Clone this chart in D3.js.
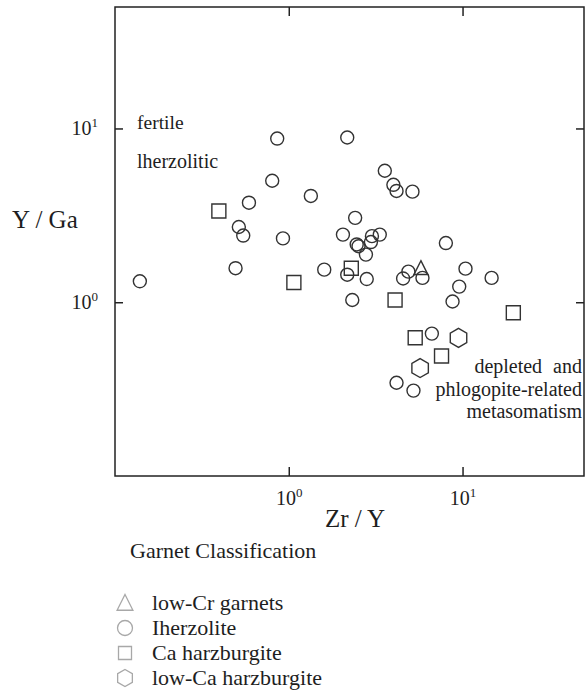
<!DOCTYPE html>
<html>
<head>
<meta charset="utf-8">
<script src="https://cdn.jsdelivr.net/npm/d3@7"></script>
<style>
  body { margin: 0; background: #fff; }
  text { font-family: "Liberation Serif", "Times New Roman", serif; fill: #1e1e1e; }
</style>
</head>
<body>
<div id="chart-area"></div>
<script>
// Garnet Zr/Y vs Y/Ga
const lherzolite = [
    [0.139, 1.32], [0.858, 8.75], [2.17, 8.87], [0.803, 5.00], [1.34, 4.09],
    [0.590, 3.74], [0.516, 2.71], [0.547, 2.42], [0.926, 2.33], [0.494, 1.57],
    [3.57, 5.71], [4.00, 4.74], [4.17, 4.37], [5.15, 4.33], [2.41, 3.06],
    [2.05, 2.45], [3.01, 2.40], [3.34, 2.45], [2.97, 2.22], [2.46, 2.15],
    [2.52, 2.10], [2.78, 1.88], [8.02, 2.19], [1.60, 1.54], [2.17, 1.44],
    [2.81, 1.36], [4.88, 1.50], [4.55, 1.37], [5.88, 1.38], [10.4, 1.56],
    [14.7, 1.38], [9.57, 1.23], [2.32, 1.03], [8.76, 1.01], [6.66, 0.660],
    [4.17, 0.344], [5.22, 0.310]
]
const caHarzburgite = [
    [0.396, 3.35], [1.07, 1.30], [2.29, 1.57], [4.09, 1.03], [19.6, 0.870],
    [5.34, 0.624], [7.57, 0.490]
]
const lowCaHarzburgite = [[9.48, 0.624], [5.70, 0.418]]
const lowCrGarnets = [[5.76, 1.57]]

const xTicks = [1, 10]
const yTicks = [1, 10]
const legendLabels = ['low-Cr garnets', 'Iherzolite', 'Ca harzburgite', 'low-Ca harzburgite']

const canvas = { width: 586, height: 690 }
const plot = { left: 115, right: 584, top: 7, bottom: 476 }

const svg = d3.select('#chart-area')
    .append('svg')
    .attr('width', canvas.width)
    .attr('height', canvas.height)

const x = d3.scaleLog().domain([0.1, 50]).range([plot.left, plot.right])
const y = d3.scaleLog().domain([0.1, 50]).range([plot.bottom, plot.top])

// marker shapes, drawn around 0,0
const shape = {
    circle: r => `M${r},0A${r},${r} 0 1,1 ${-r},0A${r},${r} 0 1,1 ${r},0Z`,
    square: r => `M${-r},${-r}H${r}V${r}H${-r}Z`,
    triangle: r => `M0,${-r}L${r * 0.93},${r * 0.85}L${-r * 0.93},${r * 0.85}Z`,
    hexagon: r => d3.range(6).map(i => {
        const a = Math.PI / 3 * i - Math.PI / 2
        return (i ? 'L' : 'M') + (r * Math.cos(a)).toFixed(2) + ',' + (r * Math.sin(a)).toFixed(2)
    }).join('') + 'Z'
}

const superscript = (sel, size) => sel.each(function (d) {
    const t = d3.select(this)
    t.text(null)
    t.append('tspan').text('10')
    t.append('tspan').attr('dy', -8).attr('font-size', size).text(Math.round(Math.log10(d)))
})

// axes, ticks pointing inwards
const gx = svg.append('g')
    .attr('transform', `translate(0,${plot.bottom})`)
    .call(d3.axisBottom(x).tickValues(xTicks).tickSize(-9).tickSizeOuter(0).tickPadding(15))
const gy = svg.append('g')
    .attr('transform', `translate(${plot.left},0)`)
    .call(d3.axisLeft(y).tickValues(yTicks).tickSize(-8).tickSizeOuter(0).tickPadding(17))
svg.append('g')
    .attr('transform', `translate(0,${plot.top})`)
    .call(d3.axisTop(x).tickValues(xTicks).tickSize(-9).tickSizeOuter(0).tickFormat(''))
svg.append('g')
    .attr('transform', `translate(${plot.right},0)`)
    .call(d3.axisRight(y).tickValues(yTicks).tickSize(-8).tickSizeOuter(0).tickFormat(''))

svg.selectAll('.domain').remove()
svg.selectAll('.tick line').attr('stroke', '#222').attr('stroke-width', 1.5)
svg.selectAll('.tick text').attr('font-family', null).attr('font-size', 20).attr('fill', '#1e1e1e')
gx.selectAll('.tick text').call(superscript, 13)
gy.selectAll('.tick text').call(superscript, 13)

svg.append('rect')
    .attr('x', plot.left)
    .attr('y', plot.top)
    .attr('width', plot.right - plot.left)
    .attr('height', plot.bottom - plot.top)
    .attr('fill', 'none')
    .attr('stroke', '#222')
    .attr('stroke-width', 1.5)

// axis titles
svg.append('text').attr('x', 12).attr('y', 228).attr('font-size', 25).text('Y / Ga')
svg.append('text').attr('x', 355).attr('y', 527).attr('text-anchor', 'middle').attr('font-size', 25).text('Zr / Y')

// field notes
svg.append('text').attr('x', 137).attr('y', 129).attr('font-size', 19.5).text('fertile')
svg.append('text').attr('x', 137).attr('y', 168).attr('font-size', 20).text('lherzolitic')
const note = svg.append('text').attr('text-anchor', 'end').attr('font-size', 20)
note.append('tspan').attr('x', 582).attr('y', 373).attr('word-spacing', 6).text('depleted and')
note.append('tspan').attr('x', 582).attr('y', 396).text('phlogopite-related')
note.append('tspan').attr('x', 582).attr('y', 418).text('metasomatism')

// points
const series = [
    { data: lherzolite, kind: 'circle', r: 6.5 },
    { data: caHarzburgite, kind: 'square', r: 7 },
    { data: lowCaHarzburgite, kind: 'hexagon', r: 9.5 },
    { data: lowCrGarnets, kind: 'triangle', r: 7.5 }
]
series.forEach(s => {
    svg.append('g').selectAll('path')
        .data(s.data)
        .enter()
        .append('path')
        .attr('transform', d => `translate(${x(d[0])},${y(d[1])})`)
        .attr('d', shape[s.kind](s.r))
        .attr('fill', 'none')
        .attr('stroke', '#333')
        .attr('stroke-width', 1.4)
})

// legend
svg.append('text').attr('x', 130).attr('y', 558).attr('font-size', 22).text('Garnet Classification')

const legendShapes = [['triangle', 8.5], ['circle', 7.5], ['square', 6.5], ['hexagon', 8.5]]
const legend = svg.append('g').selectAll('g')
    .data(legendLabels)
    .enter()
    .append('g')
    .attr('transform', (d, i) => `translate(0,${603 + i * 25})`)
legend.append('path')
    .attr('transform', 'translate(125,0)')
    .attr('d', (d, i) => shape[legendShapes[i][0]](legendShapes[i][1]))
    .attr('fill', 'none')
    .attr('stroke', '#a8a8a8')
    .attr('stroke-width', 1.3)
legend.append('text')
    .attr('x', 152)
    .attr('y', 7)
    .attr('font-size', 22)
    .text(d => d)
</script>
</body>
</html>
